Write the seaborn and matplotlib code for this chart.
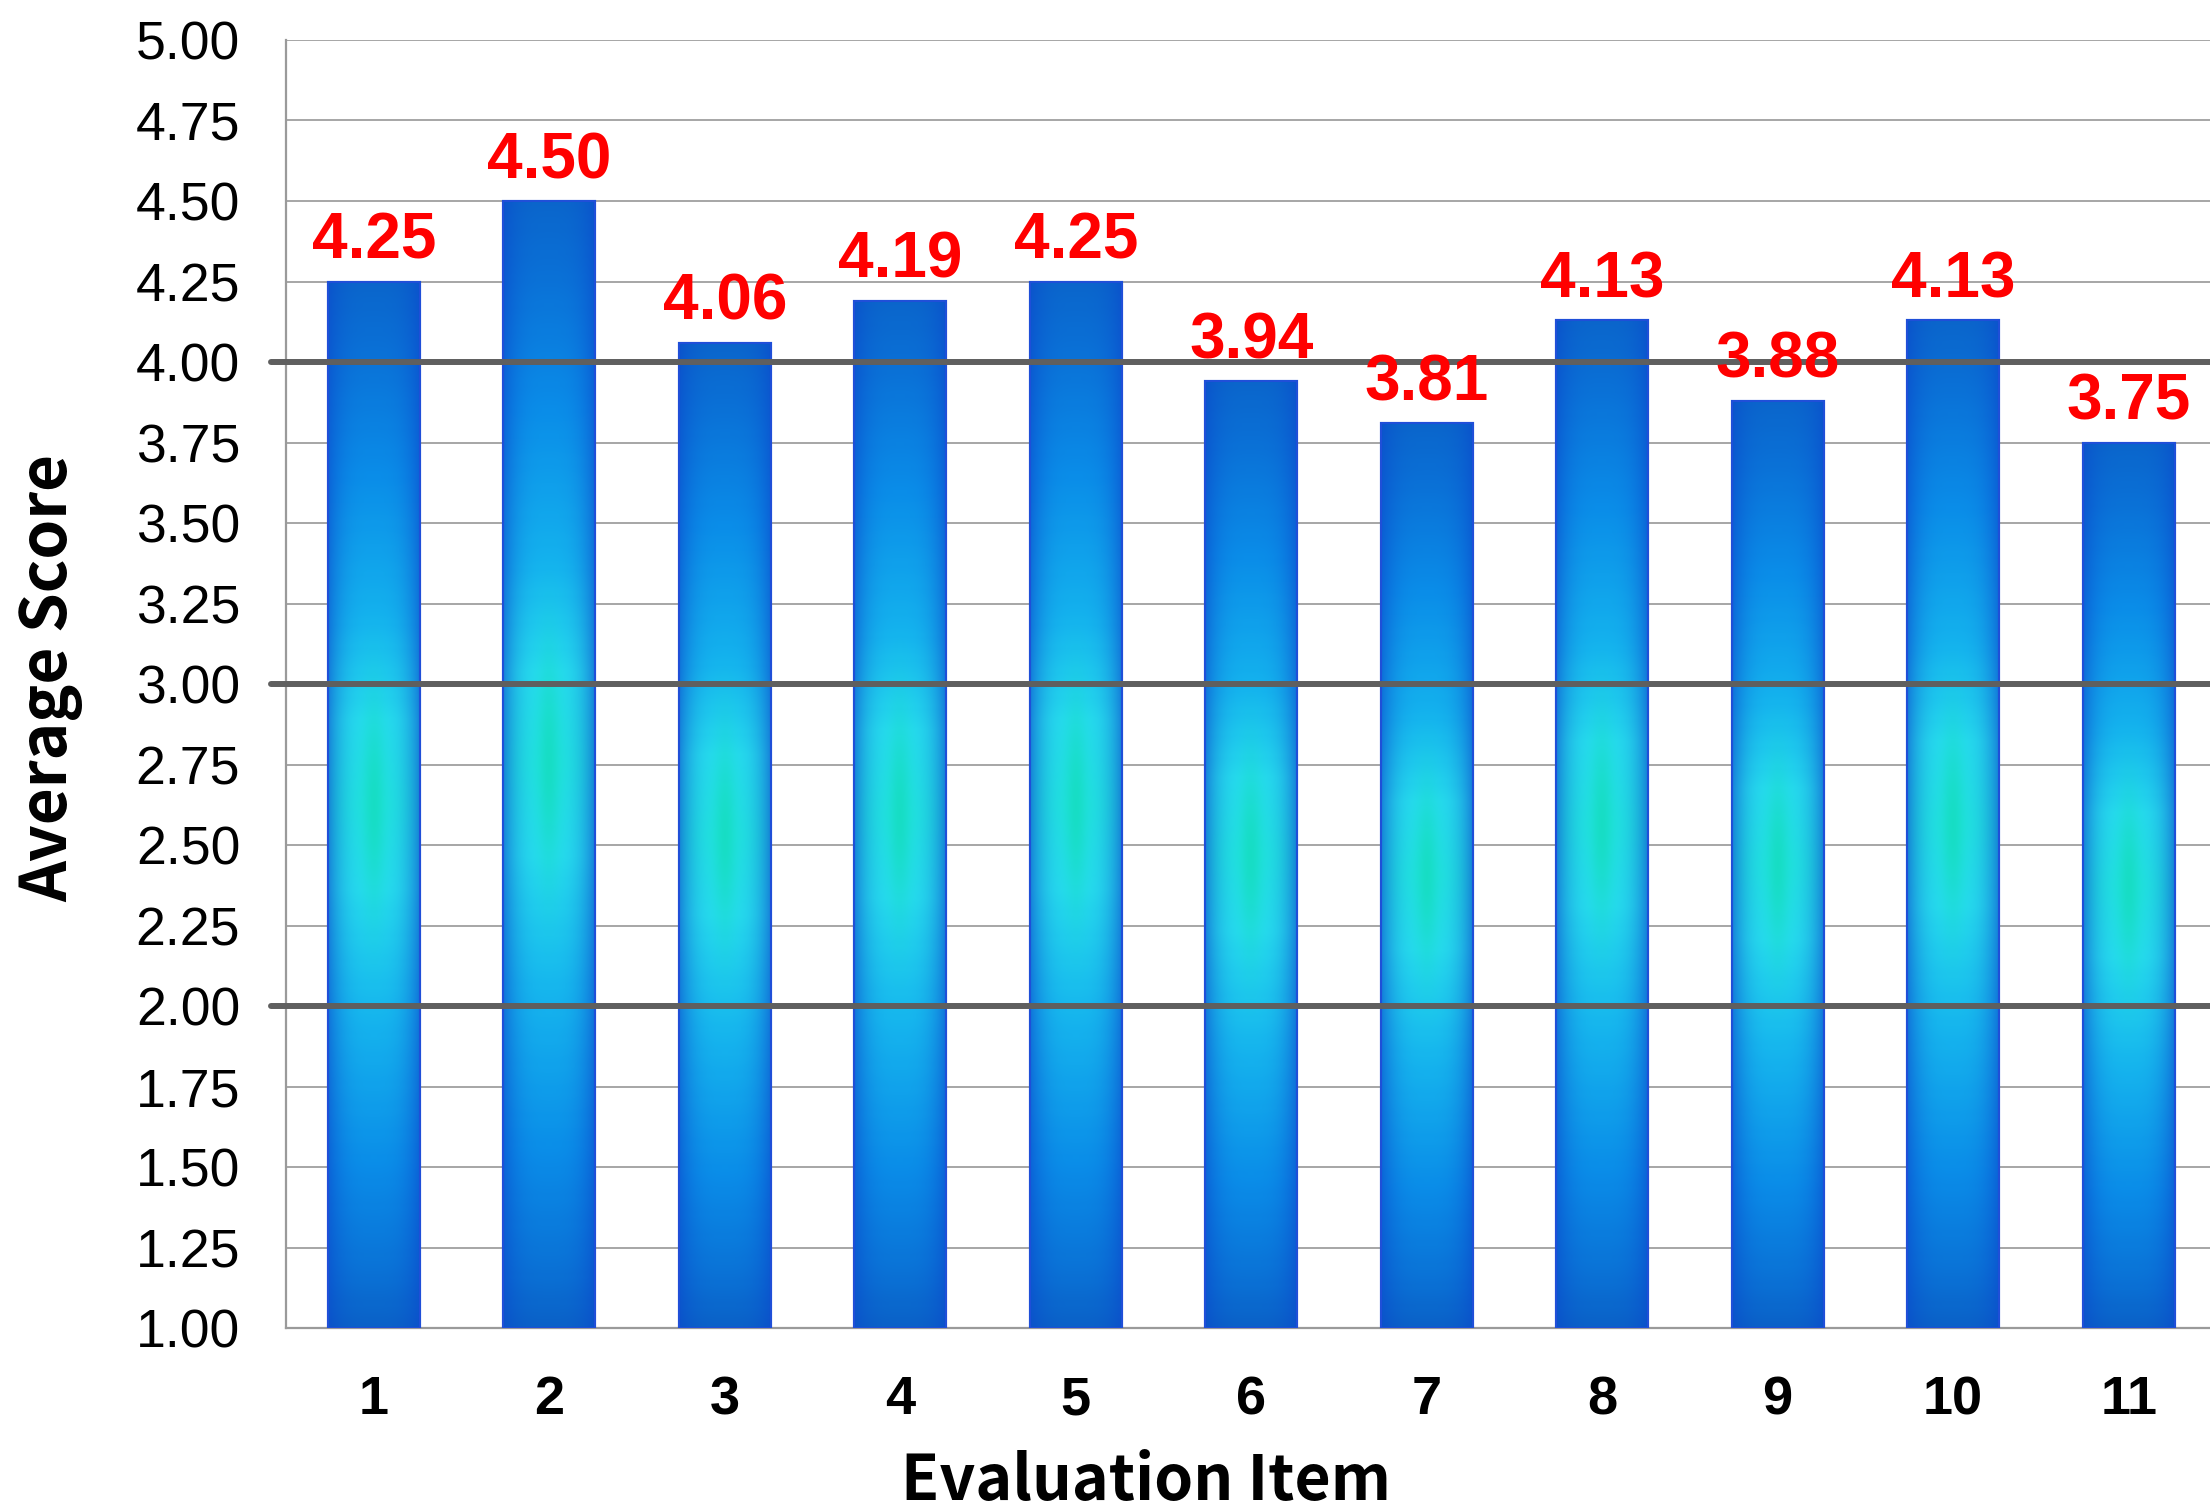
import numpy as np
import matplotlib
matplotlib.use("Agg")
import matplotlib.pyplot as plt
from matplotlib.colors import LinearSegmentedColormap, to_rgb
import seaborn as sns

# evaluation items and their average scores
items = ['1', '2', '3', '4', '5', '6', '7', '8', '9', '10', '11']
scores = [4.25, 4.50, 4.06, 4.19, 4.25, 3.94, 3.81, 4.13, 3.88, 4.13, 3.75]
y_ticks = [1.00, 1.25, 1.50, 1.75, 2.00, 2.25, 2.50, 2.75, 3.00,
           3.25, 3.50, 3.75, 4.00, 4.25, 4.50, 4.75, 5.00]
bold_lines = [2.0, 3.0, 4.0]

sns.set_theme(style='white')
plt.rcParams['font.family'] = ['Liberation Sans', 'DejaVu Sans']
plt.rcParams['text.color'] = 'black'
plt.rcParams['xtick.color'] = 'black'
plt.rcParams['ytick.color'] = 'black'
plt.rcParams['axes.labelcolor'] = 'black'

fig = plt.figure(figsize=(22.10, 15.09), dpi=100)
ax = fig.add_axes([0.1294, 0.1199, 0.8735, 0.8536])

sns.barplot(x=items, y=scores, order=items, color='#0a8ae8', width=0.524,
            edgecolor='#1f4fd8', linewidth=1.5, ax=ax, zorder=3)

ax.set_ylim(1, 5)
ax.set_xlim(-0.5, len(items) - 0.5)

# gradient fill for each bar (vertical blue->cyan->blue, darker sides)
stops = [(0.00, '#0a66cc'), (0.06, '#0a70d6'), (0.18, '#0a8ce8'),
         (0.32, '#14b2ee'), (0.42, '#26dcee'), (0.50, '#22e2e2'),
         (0.58, '#26dcee'), (0.70, '#16b6ee'), (0.85, '#0a8ce8'),
         (0.95, '#0a72d6'), (1.00, '#0a62c8')]
vcmap = LinearSegmentedColormap.from_list('bar', stops)
nv, nu = 300, 80
v = np.linspace(0, 1, nv)[:, None]
u = np.linspace(0, 1, nu)[None, :]
grad = vcmap(np.repeat(v, nu, axis=1))[..., :3]
edge_w = (np.abs(2 * u - 1) ** 3 * 0.6)[..., None]
grad = grad * (1 - edge_w) + np.array(to_rgb('#0c48cc')) * edge_w
green_w = (0.7 * np.exp(-((u - 0.5) / 0.12) ** 2) * np.exp(-((v - 0.5) / 0.09) ** 2))[..., None]
grad = grad * (1 - green_w) + np.array(to_rgb('#12dcb8')) * green_w

ylo = ax.get_ylim()[0]
for p in ax.patches:
    x0, w = p.get_x(), p.get_width()
    top = p.get_y() + p.get_height()
    ax.imshow(grad, extent=[x0, x0 + w, ylo, top], aspect='auto',
              origin='upper', zorder=3.5, interpolation='bilinear')
    ax.add_patch(plt.Rectangle((x0, ylo), w, top - ylo, fill=False,
                               edgecolor='#1f4fd8', linewidth=1.5, zorder=3.6))
    ax.annotate(f'{top:.2f}', (x0 + w / 2, top), xytext=(0, 16.5),
                textcoords='offset points', ha='center', va='baseline',
                color='#ff0000', fontsize=46, fontweight='bold', zorder=6)

ax.set_xlim(-0.5, len(items) - 0.5)
ax.set_ylim(1, 5)

# grid
ax.set_yticks(y_ticks)
ax.set_yticklabels([f'{t:.2f}' for t in y_ticks], fontsize=38.5)
ax.yaxis.grid(True, color='#a6a6a6', linewidth=1.4, zorder=0)
ax.set_axisbelow(True)
for b in bold_lines:
    ax.axhline(b, xmin=-15 / 1930, xmax=1, color='#5f5f5f', linewidth=4.3,
               zorder=5, clip_on=False)

# x ticks: marks between categories, labels centred
ax.set_xticks(np.arange(-0.5, len(items), 1))
ax.set_xticklabels([])
ax.set_xticks(range(len(items)), labels=items, minor=True)
ax.tick_params(axis='x', which='major', length=11, width=1.4, color='#9a9a9a', direction='out')
ax.tick_params(axis='x', which='minor', length=0, pad=34)
ax.tick_params(axis='y', length=11, width=1.4, color='#9a9a9a', pad=22)
for lab in ax.get_xticklabels(minor=True):
    lab.set_fontfamily(['Liberation Sans Narrow', 'Liberation Sans', 'DejaVu Sans'])
    lab.set_fontweight('bold')
    lab.set_fontsize(39)

for s in ['top', 'right']:
    ax.spines[s].set_visible(False)
for s in ['left', 'bottom']:
    ax.spines[s].set_color('#9a9a9a')
    ax.spines[s].set_linewidth(1.6)

ax.set_xlabel('Evaluation Item', fontsize=45, fontweight='bold',
              family=['Noto Sans CJK JP', 'DejaVu Sans'])
ax.set_ylabel('Average Score', fontsize=46, fontweight='bold',
              family=['Noto Sans CJK JP', 'DejaVu Sans'])
ax.xaxis.set_label_coords(0.4456, -0.095)
ax.yaxis.set_label_coords(-0.105, 0.505)

fig.savefig('out.png', dpi=100)
plt.close(fig)
